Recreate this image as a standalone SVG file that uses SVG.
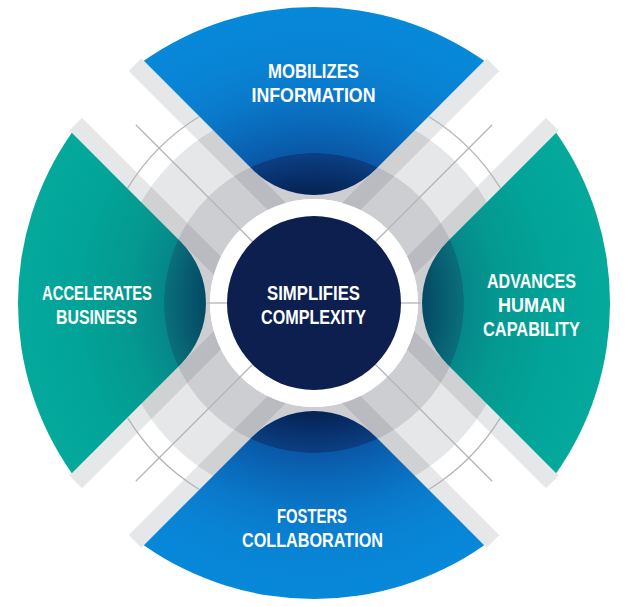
<svg xmlns="http://www.w3.org/2000/svg" width="627" height="607" viewBox="0 0 627 607">
  <defs>
    <radialGradient id="gBlue" gradientUnits="userSpaceOnUse" cx="0" cy="0" r="296">
      <stop offset="0.355" stop-color="#05204f"/>
      <stop offset="0.43" stop-color="#082f6a"/>
      <stop offset="0.505" stop-color="#0b3f83"/>
      <stop offset="0.507" stop-color="#0a58a7"/>
      <stop offset="0.6" stop-color="#0a68b8"/>
      <stop offset="0.72" stop-color="#0a7acb"/>
      <stop offset="0.85" stop-color="#0984d5"/>
      <stop offset="1" stop-color="#0788d9"/>
    </radialGradient>
    <radialGradient id="gTeal" gradientUnits="userSpaceOnUse" cx="0" cy="0" r="296">
      <stop offset="0.355" stop-color="#034660"/>
      <stop offset="0.505" stop-color="#0a6f7b"/>
      <stop offset="0.507" stop-color="#06878a"/>
      <stop offset="0.62" stop-color="#049890"/>
      <stop offset="0.8" stop-color="#02a398"/>
      <stop offset="1" stop-color="#04a99c"/>
    </radialGradient>
    <path id="seg" d="M -170.2,-242.2 A 296 296 0 0 1 170.2,-242.2 L 61.5,-133.5 A 87 87 0 0 1 -61.5,-133.5 Z"/>
    <g id="arm">
      <rect x="-51" y="-295" width="18" height="255" class="shade"/>
      <rect x="33" y="-295" width="18" height="255" class="shade"/>
    </g>
    <g id="armLines">
      <line x1="0" y1="-87" x2="0" y2="-252" class="thin"/>
      <path d="M -50.8,-213 A 219 219 0 0 1 50.8,-213" class="thin"/>
    </g>
  </defs>
  <style>
    .shade { fill: #1a2030; fill-opacity: 0.11; }
    .thin { fill: none; stroke: #b3b5b8; stroke-width: 1.3; }
    .lbl { font-family: "Liberation Sans", Arial, sans-serif; font-weight: 700; font-size: 20.5px; fill: #ffffff; text-anchor: middle; }
  </style>
  <rect width="627" height="607" fill="#ffffff"/>

  <g id="band" transform="translate(314,303)">
    <circle r="127" fill="none" stroke="#1a2030" stroke-opacity="0.22" stroke-width="46"/>
    <circle r="175" fill="none" stroke="#1a2030" stroke-opacity="0.11" stroke-width="50"/>
    <use href="#arm" transform="rotate(45)"/>
    <use href="#arm" transform="rotate(135)"/>
    <use href="#arm" transform="rotate(225)"/>
    <use href="#arm" transform="rotate(315)"/>
  </g>

  <g id="seg-top">
    <use href="#seg" fill="url(#gBlue)" transform="translate(314,303)"/>
    <text class="lbl" x="313.5" y="78" textLength="91" lengthAdjust="spacingAndGlyphs">MOBILIZES</text>
    <text class="lbl" x="313.5" y="102" textLength="124" lengthAdjust="spacingAndGlyphs">INFORMATION</text>
  </g>
  <g id="seg-right">
    <use href="#seg" fill="url(#gTeal)" transform="translate(314,303) rotate(90)"/>
    <text class="lbl" x="531.5" y="287.5" textLength="89" lengthAdjust="spacingAndGlyphs">ADVANCES</text>
    <text class="lbl" x="531.5" y="311.5" textLength="67" lengthAdjust="spacingAndGlyphs">HUMAN</text>
    <text class="lbl" x="531.5" y="335.5" textLength="97" lengthAdjust="spacingAndGlyphs">CAPABILITY</text>
  </g>
  <g id="seg-bottom">
    <use href="#seg" fill="url(#gBlue)" transform="translate(314,303) rotate(180)"/>
    <text class="lbl" x="312" y="523" textLength="70" lengthAdjust="spacingAndGlyphs">FOSTERS</text>
    <text class="lbl" x="312.5" y="547" textLength="141" lengthAdjust="spacingAndGlyphs">COLLABORATION</text>
  </g>
  <g id="seg-left">
    <use href="#seg" fill="url(#gTeal)" transform="translate(314,303) rotate(270)"/>
    <text class="lbl" x="97" y="300" textLength="110" lengthAdjust="spacingAndGlyphs">ACCELERATES</text>
    <text class="lbl" x="96.5" y="324" textLength="81" lengthAdjust="spacingAndGlyphs">BUSINESS</text>
  </g>

  <g id="ring">
    <circle cx="314" cy="303" r="104" fill="#ffffff"/>
  </g>

  <g id="connectors" transform="translate(314,303)">
    <use href="#armLines" transform="rotate(45)"/>
    <use href="#armLines" transform="rotate(135)"/>
    <use href="#armLines" transform="rotate(225)"/>
    <use href="#armLines" transform="rotate(315)"/>
    <line x1="-107" y1="0" x2="-87" y2="0" class="thin"/>
    <line x1="87" y1="0" x2="107" y2="0" class="thin"/>
  </g>

  <g id="center">
    <circle cx="314" cy="303" r="87" fill="#0c1f4f"/>
    <text class="lbl" x="313.5" y="300" textLength="93" lengthAdjust="spacingAndGlyphs">SIMPLIFIES</text>
    <text class="lbl" x="313.5" y="324" textLength="105" lengthAdjust="spacingAndGlyphs">COMPLEXITY</text>
  </g>
</svg>
